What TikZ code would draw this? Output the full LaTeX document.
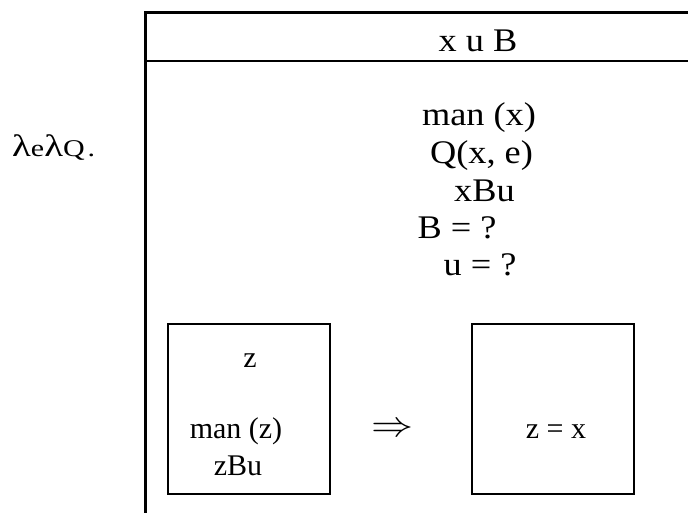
\documentclass[tikz,border=0pt]{standalone}
\usepackage{fontspec}
\usepackage{graphicx}
\setmainfont{Liberation Serif}
\newfontfamily\widefont[FakeStretch=1.1]{Liberation Serif}
\newfontfamily\lamfont[FakeStretch=1.25]{Liberation Serif}
\begin{document}
\begin{tikzpicture}[x=1pt,y=-1pt,
  upper/.style={font=\widefont\fontsize{33}{35}\selectfont, anchor=base, inner sep=0pt},
  lamtext/.style={font=\lamfont\fontsize{24}{27}\selectfont, anchor=base west, inner sep=0pt},
  lower/.style={font=\fontsize{30}{32}\selectfont, anchor=base, inner sep=0pt},
  drsbox/.style={draw, line width=1.3pt, minimum width=162pt, minimum height=170pt, inner sep=0pt, anchor=center},
  outerline/.style={line width=3pt},
  headline/.style={line width=2pt}]
\useasboundingbox (0,0) rectangle (688,513);
\clip (0,0) rectangle (688,513);
% outer DRS box (cut off at right and bottom)
\coordinate (otr) at (700,13);
\coordinate (otl) at (145.5,13);
\coordinate (obl) at (145.5,520);
\coordinate (hl) at (145.5,61);
\coordinate (hr) at (700,61);
\draw[outerline] (otr) -- (otl) -- (obl);
\draw[headline] (hl) -- (hr);
% header
\node[upper] (hdr) at (478,52) {x u B};
% lambda prefix
\node[lamtext] (lam) at (12,157) {{\fontsize{31}{33}\selectfont λ}e{\fontsize{31}{33}\selectfont λ}Q\kern3pt.};
% conditions
\node[upper] (c1) at (479,126) {man (x)};
\node[upper] (c2) at (481.5,164) {Q(x, e)};
\node[upper] (c3) at (484.5,202) {xBu};
\node[upper] (c4) at (457,238) {B = ?};
\node[upper] (c5) at (480,275) {u = ?};
% sub-boxes
\node[drsbox] (lbox) at (249,409) {};
\node[drsbox] (rbox) at (553,409) {};
\node[lower] (lz) at (250,367) {z};
\node[lower] (lman) at (236,438) {man (z)};
\node[lower] (lzbu) at (238,475) {zBu};
\node[lower] (req) at (556,438) {z = x};
\node[inner sep=0pt] (impl) at (392,430) {\scalebox{4.2}[3.6]{$\Rightarrow$}};
\end{tikzpicture}
\end{document}
